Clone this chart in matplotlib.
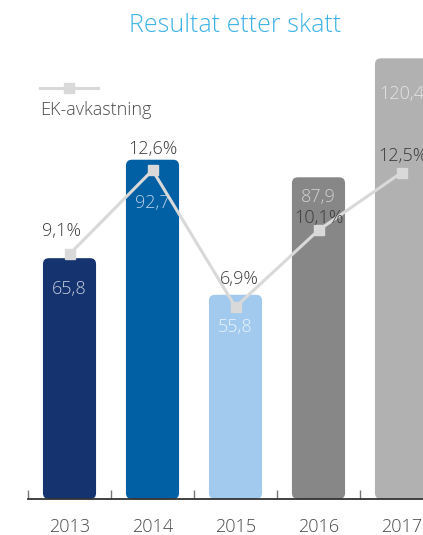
"""Resultat etter skatt (MNOK) with EK-avkastning overlaid, 2013-2017."""

import matplotlib
matplotlib.use("Agg")
import matplotlib.pyplot as plt
from matplotlib.lines import Line2D
from matplotlib.patches import FancyBboxPatch

years = ["2013", "2014", "2015", "2016", "2017"]
result = [65.8, 92.7, 55.8, 87.9, 120.4]
roe = [9.1, 12.6, 6.9, 10.1, 12.5]
result_labels = ["65,8", "92,7", "55,8", "87,9", "120,4"]
roe_labels = ["9,1%", "12,6%", "6,9%", "10,1%", "12,5%"]

bar_colors = ["#15336f", "#0060a3", "#a1caee", "#878787", "#b1b1b1"]
inner_text_colors = ["#c3cbdd", "#b9cfe6", "#eaf3fc", "#d2d2d2", "#e4e4e4"]
line_color = "#d9d9d9"
text_color = "#3a3a3a"

W, H, DPI = 423, 535, 100
plt.rcParams["font.family"] = ["Open Sans", "Lato", "DejaVu Sans"]
plt.rcParams["font.weight"] = "light"

fig = plt.figure(figsize=(W / DPI, H / DPI), dpi=DPI)

# axes placed in pixel terms: baseline at y=499, first tick at x=28, 83 px per year
left_px, base_px, top_px, step_px = 28, 499, 40, 83
n_visible = 5
ax = fig.add_axes([
    left_px / W,
    (H - base_px) / H,
    n_visible * step_px / W,
    (base_px - top_px) / H,
])
ax.set_xlim(-0.5, n_visible - 0.5)
px_per_unit = 3.66
ax.set_ylim(0, (base_px - top_px) / px_per_unit)

bar_width = 0.64
radius_px = 6
aspect = step_px / px_per_unit
# how far each value label sits below its bar top (points)
inner_drop = [22, 31, 23, 14, 26]
for i, (val, col) in enumerate(zip(result, bar_colors)):
    patch = FancyBboxPatch(
        (i - bar_width / 2, 0), bar_width, val,
        boxstyle=f"round,pad=0,rounding_size={radius_px / step_px}",
        mutation_aspect=aspect, facecolor=col, edgecolor="none", zorder=2,
    )
    ax.add_patch(patch)
    ax.annotate(result_labels[i], (i, val), xytext=(0, -inner_drop[i]), textcoords="offset points",
                ha="center", va="center", fontsize=13, color=inner_text_colors[i], zorder=3)

for side in ("top", "right", "left"):
    ax.spines[side].set_visible(False)
ax.spines["bottom"].set_color("#333333")
ax.spines["bottom"].set_linewidth(1.3)
ax.set_yticks([])
ax.set_xticks(range(len(years)))
ax.set_xticklabels(years)
ax.set_xticks([i - 0.5 for i in range(len(years) + 1)], minor=True)
ax.tick_params(axis="x", which="major", length=0, pad=14, labelsize=13, labelcolor="#4a4a4a")
ax.tick_params(axis="x", which="minor", direction="in", length=6.5, width=1, color="#777777")

# secondary axis for the return-on-equity line
ax2 = ax.twinx()
ax2.set_xlim(ax.get_xlim())
roe_px, anchor_val, anchor_px = 24.0, 6.9, 307
ax2.set_ylim(anchor_val - (base_px - anchor_px) / roe_px,
             anchor_val + (anchor_px - top_px) / roe_px)
ax2.axis("off")
ax2.plot(range(len(years)), roe, color=line_color, linewidth=2.2, marker="s",
         markersize=7, markerfacecolor=line_color, markeredgecolor=line_color, zorder=4)
nudge_x = [-6, 0, 3, 0, 1]
nudge_y = [17, 15, 20, 9, 12]
for i, (val, lab) in enumerate(zip(roe, roe_labels)):
    ax2.annotate(lab, (i, val), xytext=(nudge_x[i], nudge_y[i]), textcoords="offset points",
                 ha="center", va="center", fontsize=13, color=text_color, zorder=5)

fig.text(235 / W, 1 - 25 / H, "Resultat etter skatt", ha="center", va="center",
         fontsize=18, color="#3db2e6")

# legend drawn by hand: line sample above the label
fig.add_artist(Line2D([40 / W, 98 / W], [1 - 88 / H, 1 - 88 / H], transform=fig.transFigure,
                      color=line_color, linewidth=2.2))
fig.add_artist(Line2D([69 / W], [1 - 88 / H], transform=fig.transFigure, marker="s",
                      markersize=7, color=line_color, linestyle="none"))
fig.text(40 / W, 1 - 110 / H, "EK-avkastning", ha="left", va="center",
         fontsize=13, color="#4a4a4a")

fig.savefig("out.png", dpi=DPI)
